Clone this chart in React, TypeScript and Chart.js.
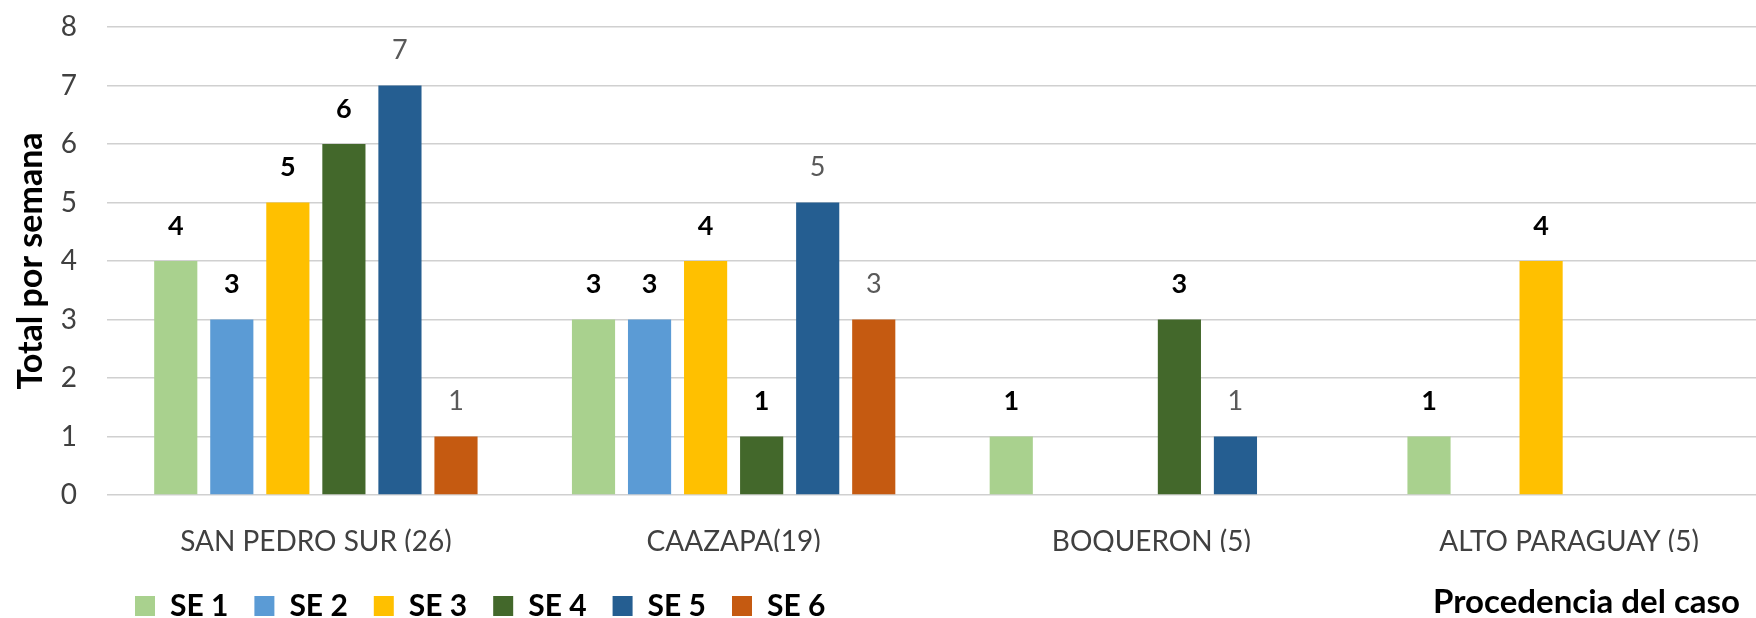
import React, { useEffect, useRef } from "react";
import { Chart, registerables } from "chart.js";

Chart.register(...registerables);

const categories = ["SAN PEDRO SUR (26)", "CAAZAPA(19)", "BOQUERON (5)", "ALTO PARAGUAY (5)"];
const seriesNames = ["SE 1", "SE 2", "SE 3", "SE 4", "SE 5", "SE 6"];
const se1 = [4, 3, 1, 1];
const se2 = [3, 3, null, null];
const se3 = [5, 4, null, 4];
const se4 = [6, 1, 3, null];
const se5 = [7, 5, 1, null];
const se6 = [1, 3, null, null];
const seriesValues = [se1, se2, se3, se4, se5, se6];
const seriesColors = ["#A9D18E", "#5B9BD5", "#FFC000", "#43682B", "#255E91", "#C55A11"];
const boldLabelSeries = [true, true, true, true, false, false];
const yMin = 0;
const yMax = 8;
const yStep = 1;
const yAxisTitle = "Total por semana";
const xAxisTitle = "Procedencia del caso";

const FONT = "Lato, 'Open Sans', sans-serif";

const dataLabelPlugin = {
  id: "dataLabels",
  afterDatasetsDraw(chart: any) {
    const ctx = chart.ctx;
    ctx.save();
    ctx.textAlign = "center";
    ctx.textBaseline = "middle";
    chart.data.datasets.forEach((ds: any, i: number) => {
      const meta = chart.getDatasetMeta(i);
      if (meta.hidden) return;
      meta.data.forEach((el: any, j: number) => {
        const v = ds.data[j];
        if (v === null || v === undefined) return;
        const bold = boldLabelSeries[i];
        ctx.font = `${bold ? "bold " : ""}27px ${FONT}`;
        ctx.fillStyle = bold ? "#000000" : "#595959";
        ctx.fillText(String(v), el.x, el.y - 35);
      });
    });
    ctx.restore();
  },
};

const xTitlePlugin = {
  id: "xTitle",
  afterDraw(chart: any) {
    const ctx = chart.ctx;
    ctx.save();
    ctx.font = `bold 33px ${FONT}`;
    ctx.fillStyle = "#000000";
    ctx.textAlign = "right";
    ctx.textBaseline = "alphabetic";
    ctx.fillText(xAxisTitle, 1740, 613);
    ctx.restore();
  },
};

const legendShiftPlugin = {
  id: "legendShift",
  afterLayout(chart: any) {
    const lg = chart.legend;
    if (!lg) return;
    const pad = lg.options.labels.padding;
    const dx = 135 - (lg.left + pad);
    lg.left += dx;
    lg.right += dx;
    const dy = 591 - (lg.top + pad);
    lg.top += dy;
    lg.bottom += dy;
  },
};

export default function App() {
  const ref = useRef<HTMLCanvasElement | null>(null);

  useEffect(() => {
    if (!ref.current) return;
    const chart = new Chart(ref.current, {
      type: "bar",
      data: {
        labels: categories,
        datasets: seriesNames.map((name, i) => ({
          label: name,
          data: seriesValues[i],
          backgroundColor: seriesColors[i],
          borderWidth: 0,
          categoryPercentage: 0.805,
          barPercentage: 0.77,
        })),
      },
      options: {
        responsive: false,
        animation: false,
        layout: { padding: { top: 27, right: 12, left: 0, bottom: 0 } },
        plugins: {
          tooltip: { enabled: false },
          legend: {
            position: "bottom",
            align: "start",
            labels: {
              boxWidth: 20,
              boxHeight: 20,
              padding: 26,
              color: "#000000",
              font: { family: FONT, size: 30, weight: "bold" },
            },
          },
        },
        scales: {
          x: {
            afterFit: (scale: any) => {
              scale.height = 57;
            },
            grid: { display: false, drawTicks: false },
            border: { display: false },
            ticks: {
              color: "#404040",
              font: { family: FONT, size: 28 },
              padding: 30,
              maxRotation: 0,
              autoSkip: false,
            },
          },
          y: {
            min: yMin,
            max: yMax,
            afterFit: (scale: any) => {
              scale.width = 107;
              scale.paddingTop = 0;
              scale.paddingBottom = 0;
            },
            grid: { color: "#d0d0d0", lineWidth: 1.5, drawTicks: false },
            border: { display: false },
            ticks: {
              stepSize: yStep,
              color: "#404040",
              font: { family: FONT, size: 28 },
              padding: 30,
            },
            title: {
              display: true,
              text: yAxisTitle,
              color: "#000000",
              font: { family: FONT, size: 34, weight: "bold" },
              padding: { top: 11, bottom: 0 },
            },
          },
        },
      },
      plugins: [dataLabelPlugin, xTitlePlugin, legendShiftPlugin],
    });
    return () => chart.destroy();
  }, []);

  return (
    <div style={{ position: "fixed", left: 0, top: 0, width: 1756, height: 618, overflow: "hidden", background: "#ffffff" }}>
      <canvas ref={ref} width={1790} height={618} style={{ display: "block" }} />
    </div>
  );
}
